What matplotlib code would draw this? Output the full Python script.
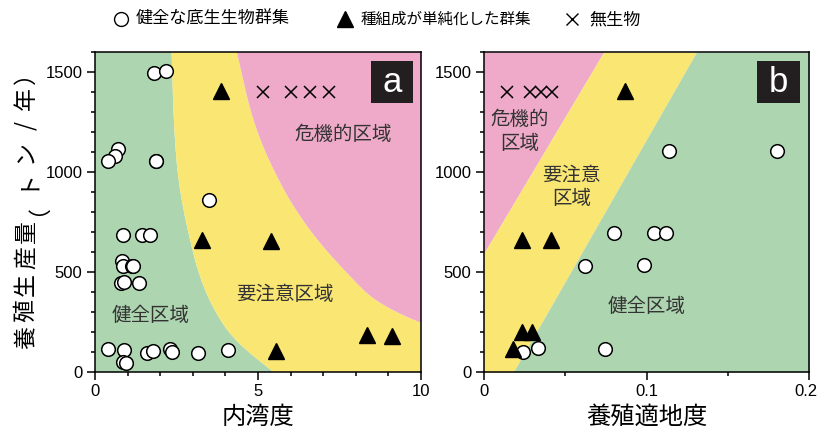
import numpy as np
import matplotlib
matplotlib.use("Agg")
import matplotlib.pyplot as plt
from matplotlib.patches import Rectangle, Polygon
from matplotlib.lines import Line2D
from matplotlib.ticker import MultipleLocator
import matplotlib.transforms as mtransforms

JP = ['Noto Sans CJK JP', 'DejaVu Sans']
NUM = ['Liberation Sans', 'Noto Sans CJK JP']
plt.rcParams['font.family'] = NUM

# ---------------- data ----------------
# Panel a: 内湾度 vs 養殖生産量
a_healthy_x = [1.82, 2.18, 0.72, 0.61, 0.41, 1.87, 1.87, 3.50, 0.85, 1.43, 1.69,
               0.84, 0.87, 1.12, 1.18, 0.80, 0.90, 1.35, 0.41, 0.90, 0.87, 0.95,
               1.58, 1.77, 2.30, 2.35, 3.17, 4.09]
a_healthy_y = [1495, 1503, 1115, 1078, 1053, 1053, 1056, 862, 687, 687, 683,
               553, 532, 528, 532, 445, 448, 445, 115, 112, 48, 45,
               95, 103, 115, 98, 95, 112]
a_simple_x = [3.87, 3.27, 5.40, 5.54, 8.33, 9.10]
a_simple_y = [1403, 662, 653, 103, 187, 178]
a_azoic_x = [5.14, 6.01, 6.60, 7.19]
a_azoic_y = [1400, 1400, 1400, 1400]

# Panel b: 養殖適地度 vs 養殖生産量
b_healthy_x = [0.1137, 0.180, 0.0798, 0.1044, 0.1122, 0.0623, 0.0987, 0.0746, 0.0331, 0.0238]
b_healthy_y = [1107, 1107, 695, 695, 695, 532, 533, 115, 120, 100]
b_simple_x = [0.0865, 0.0236, 0.0411, 0.0232, 0.0294, 0.0181]
b_simple_y = [1403, 662, 662, 198, 198, 115]
b_azoic_x = [0.014, 0.028, 0.035, 0.042]
b_azoic_y = [1400, 1400, 1400, 1400]

# zone boundaries (panel a): x position of boundary at given production
zone_a_y = [0, 162, 328, 495, 662, 828, 995, 1162, 1328, 1495, 1600]
zone_a_green = [5.47, 4.24, 3.58, 3.17, 2.91, 2.69, 2.53, 2.45, 2.40, 2.37, 2.35]
zone_a_pink = [13.0, 11.3, 8.74, 7.72, 6.80, 6.08, 5.52, 5.06, 4.73, 4.50, 4.35]
# zone boundaries (panel b): straight lines (x at y=0 and at y=1600)
zone_b_green = [0.0181, 0.1307]
zone_b_pink = [-0.0436, 0.0736]

legend_labels = ['健全な底生生物群集', '種組成が単純化した群集', '無生物']

GREEN = '#acd5b0'
YELLOW = '#fae672'
PINK = '#eeaac8'
DARK = '#231f20'


def chaikin(xs, ys, n=5):
    p = np.column_stack([xs, ys]).astype(float)
    for _ in range(n):
        q = 0.75 * p[:-1] + 0.25 * p[1:]
        r = 0.25 * p[:-1] + 0.75 * p[1:]
        mid = np.empty((2 * len(q), 2))
        mid[0::2] = q
        mid[1::2] = r
        p = np.vstack([p[:1], mid, p[-1:]])
    return p


fig = plt.figure(figsize=(8.19, 4.32), dpi=100)
ax1 = fig.add_axes([0.116, 0.1389, 0.398, 0.7407])
ax2 = fig.add_axes([0.591, 0.1389, 0.397, 0.7407])

# panel a zones
gb = chaikin(zone_a_green, zone_a_y)
pb = chaikin(zone_a_pink, zone_a_y)
ax1.add_patch(Polygon(np.vstack([[[0, 0]], gb, [[0, 1600]]]), closed=True,
                      facecolor=GREEN, edgecolor='none', zorder=0))
ax1.add_patch(Polygon(np.vstack([gb, pb[::-1]]), closed=True,
                      facecolor=YELLOW, edgecolor='none', zorder=0))
ax1.add_patch(Polygon(np.vstack([pb, [[14, 1600], [14, 0]]]), closed=True,
                      facecolor=PINK, edgecolor='none', zorder=0))

# panel b zones
yy = np.array([0, 1600])
gxb = np.array(zone_b_green)
pxb = np.array(zone_b_pink)
ax2.fill_betweenx(yy, -0.1, pxb, color=PINK, lw=0, zorder=0)
ax2.fill_betweenx(yy, pxb, gxb, color=YELLOW, lw=0, zorder=0)
ax2.fill_betweenx(yy, gxb, 0.3, color=GREEN, lw=0, zorder=0)

circ_kw = dict(ls='none', marker='o', ms=9.8, mfc='white', mec='black', mew=1.1, zorder=3)
tri_kw = dict(ls='none', marker='^', ms=11.5, mfc='black', mec='black', zorder=4)
x_kw = dict(ls='none', marker='x', ms=9, mec='black', mew=1.1, zorder=4)

ax1.plot(a_healthy_x, a_healthy_y, **circ_kw)
ax1.plot(a_simple_x, a_simple_y, **tri_kw)
ax1.plot(a_azoic_x, a_azoic_y, **x_kw)

ax2.plot(b_simple_x, b_simple_y, **tri_kw)
ax2.plot(b_healthy_x, b_healthy_y, **circ_kw)
ax2.plot(b_azoic_x, b_azoic_y, **x_kw)

ax1.set_xlim(0, 10)
ax2.set_xlim(0, 0.2)
for ax in (ax1, ax2):
    ax.set_ylim(0, 1600)
    ax.yaxis.set_major_locator(MultipleLocator(500))
    ax.yaxis.set_minor_locator(MultipleLocator(100))
    ax.tick_params(which='major', direction='out', length=6, width=1.1, labelsize=12,
                   colors='black', pad=3)
    ax.tick_params(which='minor', direction='out', length=3, width=1.1)
    for s in ax.spines.values():
        s.set_linewidth(1.1)

ax1.xaxis.set_major_locator(MultipleLocator(5))
ax1.xaxis.set_minor_locator(MultipleLocator(1))
ax2.xaxis.set_minor_locator(MultipleLocator(0.05))
ax2.set_xticks([0, 0.1, 0.2])
ax2.set_xticklabels(['0', '0.1', '0.2'])
for ax in (ax1, ax2):
    for lab in ax.get_xticklabels() + ax.get_yticklabels():
        lab.set_family(NUM)
# keep the last tick label of panel b inside the figure
last = ax2.get_xticklabels()[-1]
last.set_transform(last.get_transform() +
                   mtransforms.ScaledTranslation(-3 / 100, 0, fig.dpi_scale_trans))

ax1.set_xlabel('内湾度', family=JP, fontsize=17.5, labelpad=3)
ax2.set_xlabel('養殖適地度', family=JP, fontsize=17.5, labelpad=3)

# y label, set with wider character spacing as in the reference
ylabel_chars = list('養殖生産量（トン/年）')
pitch = 26.5 / 432
y_center = 1 - 205 / 432
n = len(ylabel_chars)
for i, ch in enumerate(ylabel_chars):
    yc = y_center + (i - (n - 1) / 2) * pitch
    fig.text(0.0317, yc, ch, rotation=90, family=JP, fontsize=16.5,
             ha='center', va='center', rotation_mode='anchor')

# zone labels
lab_kw = dict(family=JP, fontsize=14, color='#333333', ha='center', va='center', zorder=2)
ax1.text(7.62, 1187, '危機的区域', **lab_kw)
ax1.text(5.83, 387, '要注意区域', **lab_kw)
ax1.text(1.72, 282, '健全区域', **lab_kw)
ax2.text(0.0218, 1203, '危機的\n区域', linespacing=1.15, **lab_kw)
ax2.text(0.054, 928, '要注意\n区域', linespacing=1.15, **lab_kw)
ax2.text(0.1003, 328, '健全区域', **lab_kw)

# panel letters
for ax, letter, x0, x1 in ((ax1, 'a', 0.847, 0.975), (ax2, 'b', 0.840, 0.972)):
    ax.add_patch(Rectangle((x0, 0.84), x1 - x0, 0.132, transform=ax.transAxes,
                           facecolor=DARK, edgecolor='none', zorder=5))
    ax.text((x0 + x1) / 2, 0.904, letter, transform=ax.transAxes, color='white',
            fontsize=25, ha='center', va='center', family=NUM, zorder=6)

# legend (laid out by hand to follow the reference spacing)
leg_y = 1 - 19 / 432
leg_marker_x = [121 / 819, 345 / 819, 572 / 819]
leg_text_x = [136 / 819, 361 / 819, 589 / 819]
leg_sizes = [12.3, 11.2, 12.3]
leg_markers = [dict(marker='o', ms=10, mfc='white', mec='black', mew=1.0),
               dict(marker='^', ms=11, mfc='black', mec='black'),
               dict(marker='x', ms=9, mec='black', mew=1.0)]
for mx, tx, lab, sz, mk in zip(leg_marker_x, leg_text_x, legend_labels, leg_sizes, leg_markers):
    fig.add_artist(Line2D([mx], [leg_y], ls='none', transform=fig.transFigure, **mk))
    fig.text(tx, leg_y, lab, family=JP, fontsize=sz, ha='left', va='center')

fig.savefig('out.png', dpi=100)
